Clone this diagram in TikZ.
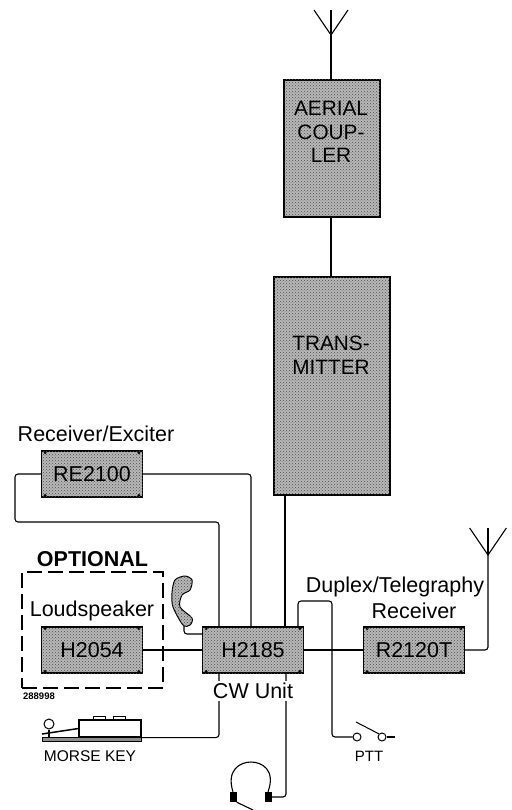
\documentclass[tikz,border=0pt]{standalone}
\usepackage{fontspec}
\setmainfont{Liberation Sans}
\usetikzlibrary{positioning,calc,patterns}
\definecolor{unitGray}{gray}{0.72}
\tikzset{
  % Shaded unit box
  bigbox/.style={rectangle,draw=black,line width=1.1pt,
    preaction={fill=unitGray},postaction={pattern=crosshatch dots,pattern color=black!70},
    inner sep=0pt,outer sep=0pt},
  % Small unit with corner screws
  unitbox/.style={bigbox,minimum width=101pt,minimum height=46pt,
    font=\fontsize{21.5}{24}\selectfont,
    path picture={
      \foreach \corner in {north west,north east,south west,south east}
        \fill ($(path picture bounding box.\corner)!4pt!(path picture bounding box.center)$) circle (1.6pt);
    }},
  % Text printed on the tall boxes
  bigtxt/.style={align=center,inner sep=0pt,font=\fontsize{20.8}{23.5}\selectfont},
  lbl/.style={inner sep=0pt,font=\fontsize{21.5}{24}\selectfont},
  smalllbl/.style={inner sep=0pt,font=\fontsize{15.5}{18}\selectfont},
  % Wires
  wire/.style={line width=1.1pt,rounded corners=3pt},
  % Aerial symbol, apex at the origin
  aerial/.pic={
    \draw[line width=1.1pt] (-17,-25) -- (0,0) -- (17,-25);
    \draw[line width=1.1pt] (0,0) -- (0,-25);
  },
}
\begin{document}
\begin{tikzpicture}[x=1pt,y=-1pt]
  \useasboundingbox (0,0) rectangle (511,810);

  % units
  \node[unitbox] (h2185) at (253,650) {};
  \node[unitbox,right=60pt of h2185] (r2120t) {};
  \node[unitbox,left=60pt of h2185] (h2054) {};
  \node[unitbox,above=130pt of h2054] (re2100) {};
  \node[bigbox,minimum width=116pt,minimum height=218pt] (transmitter) at (332,386) {};
  \node[bigbox,minimum width=96pt,minimum height=137pt,above=60pt of transmitter] (coupler) {};
  \node[bigtxt] (txtcoupler) at (331,132) {AERIAL\\COUP-\\LER};
  \node[bigtxt] (txttransmitter) at (331,355) {TRANS-\\MITTER};
  \foreach \unit/\name in {h2185/H2185,r2120t/R2120T,h2054/H2054,re2100/RE2100}
    \node[lbl] (txt\unit) at (\unit) {\name};

  % optional frame
  \node[draw,dashed,dash pattern=on 15pt off 6pt,line width=1.1pt,inner sep=0pt,
    minimum width=141pt,minimum height=116pt] (optframe) at (92.5,630) {};

  % labels
  \node[lbl,font=\fontsize{21.5}{24}\selectfont\bfseries,above=5pt of optframe] (lblopt) {OPTIONAL};
  \node[lbl,above=6pt of h2054] (lblspk) {Loudspeaker};
  \node[lbl] (lblexc) at (96,434) {Receiver/Exciter};
  \node[lbl] (lbldup) at (395,587) {Duplex/Telegraphy};
  \node[lbl,above=8pt of r2120t] (lblrx) {Receiver};
  \node[smalllbl] (lblkey) at (90,756) {MORSE KEY};
  \node[smalllbl,font=\fontsize{15}{18}\selectfont] (lblptt) at (369,756) {PTT};
  \node[inner sep=0pt,font=\fontsize{9.5}{11}\selectfont\bfseries] (lblnum) at (39,696) {288998};

  % aerials
  \pic at (331,35) {aerial};
  \pic[scale=1.08] at (488,555) {aerial};
  \coordinate (aerialtop) at (331,35);
  \coordinate (aerialrx) at (488,555);
  \draw[wire] (aerialtop) -- (coupler.north -| aerialtop);
  \draw[wire] (coupler.south -| aerialtop) -- (transmitter.north -| aerialtop);
  \draw[wire] (r2120t.east) -| (aerialrx);

  % wires into the CW unit
  \coordinate (tx) at (285,627);
  \draw[wire] (transmitter.south -| tx) -- (tx);
  \draw[wire] (h2054.east) -- (h2185.west);
  \draw[wire] (h2185.east) -- (r2120t.west);
  \coordinate (exa) at (251,627);
  \coordinate (exb) at (219,627);
  \coordinate (exc) at (15,522);
  \draw[wire] (re2100.east) -| (exa);
  \draw[wire] (re2100.west) -| (exc) -| (exb);

  % PTT
  \coordinate (ptta) at (298,627);
  \coordinate (pttb) at (332,601);
  \node[draw,circle,line width=1pt,inner sep=0pt,minimum size=8pt] (pttl) at (357,737) {};
  \node[draw,circle,line width=1pt,inner sep=0pt,minimum size=8pt] (pttr) at (382,737) {};
  \coordinate (pttend) at (395,737);
  \coordinate (pttarm) at (356,722);
  \draw[wire] (ptta) |- (pttb) |- (pttl.west);
  \draw[wire] (pttr.east) -- (pttend);
  \draw[line width=1pt] (pttarm) -- (pttr.north west);

  % morse key
  \node[draw,line width=1.1pt,inner sep=0pt,minimum width=62pt,minimum height=17pt] (keybody) at (110,728.5) {};
  \node[draw,fill=black!45,line width=1pt,inner sep=0pt,minimum width=99pt,minimum height=4pt] (keybase) at (91.5,739.5) {};
  \node[draw,circle,line width=1pt,inner sep=0pt,minimum size=10pt] (keyknob) at (49,724) {};
  \node[draw,line width=.9pt,inner sep=0pt,minimum width=12pt,minimum height=3pt,above=0pt of keybody.north,xshift=-11pt] (keybtna) {};
  \node[draw,line width=.9pt,inner sep=0pt,minimum width=12pt,minimum height=3pt,above=0pt of keybody.north,xshift=9pt] (keybtnb) {};
  \draw[line width=1.5pt] (42,734) -- (keybody.west);
  \draw[line width=1.2pt] (keyknob.south) -- (keybase.north -| keyknob);

  % headset
  \node[fill=black,inner sep=0pt,minimum width=7pt,minimum height=10pt] (earl) at (233,797) {};
  \node[fill=black,inner sep=0pt,minimum width=7pt,minimum height=10pt] (earr) at (268,797) {};
  \coordinate (cordend) at (253,810);
  \draw[line width=1.1pt] (earl.north) .. controls (226,770) and (240,762) .. (251,762)
    .. controls (262,762) and (276,770) .. (earr.north);
  \draw[line width=1.1pt] (earl.south east) -- (cordend);

  % handset
  \draw[line width=1pt,preaction={fill=unitGray},postaction={pattern=crosshatch dots,pattern color=black!70}] plot[smooth cycle] coordinates
    {(185,576) (192,580) (190,590) (182,595) (180,607) (192,618) (190,625) (183,625) (173,607) (172,593) (175,580)} ;
  \coordinate (cordtop) at (184,626);
  \coordinate (cordin) at (203,634);
  \draw[wire] (cordtop) |- (cordin);

  % wires out of the CW unit, behind their label
  \coordinate (keyout) at (219,673);
  \coordinate (phoneout) at (286,673);
  \draw[wire] (keyout) |- (keybody.south east);
  \draw[wire] (phoneout) |- (earr.east);
  \node[lbl,fill=white,inner ysep=2pt,inner xsep=0pt] (lblcw) at (253,691) {CW Unit};
\end{tikzpicture}
\end{document}
